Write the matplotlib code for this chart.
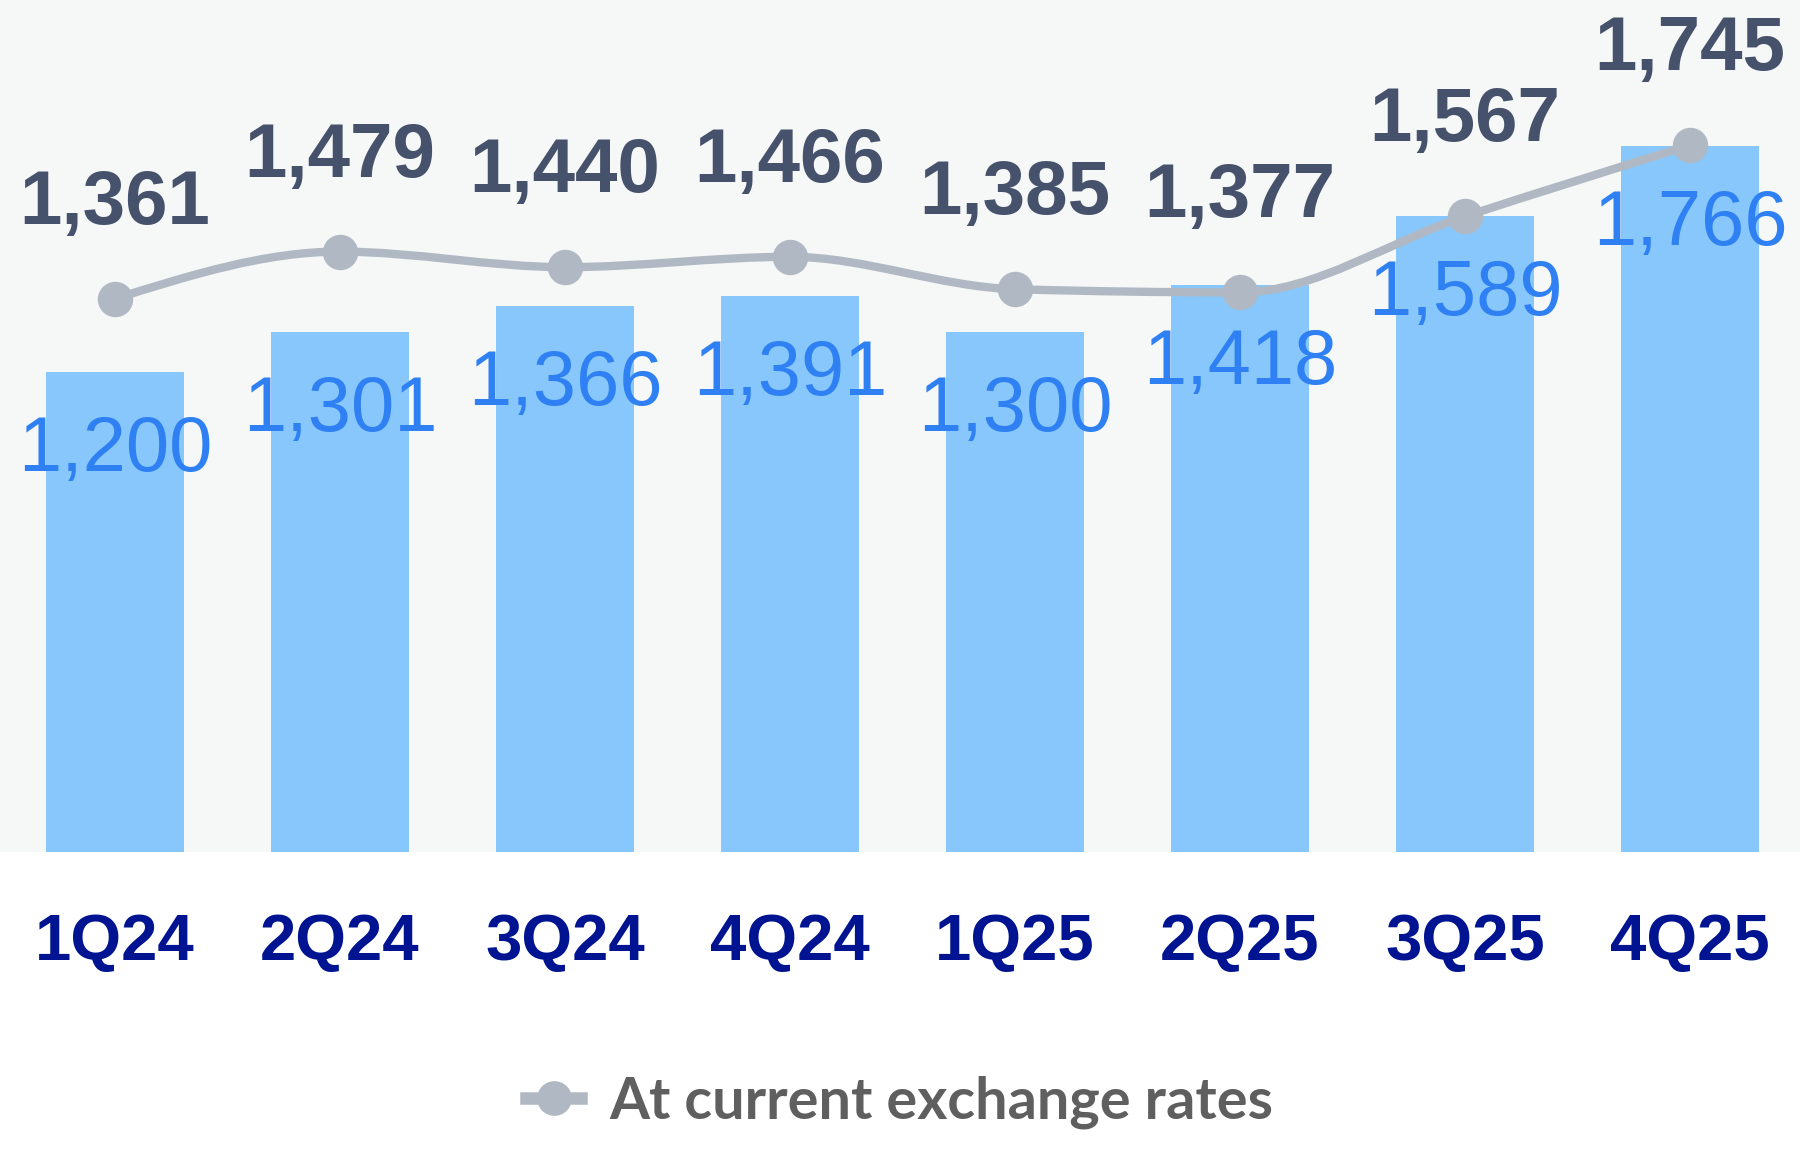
import numpy as np
import matplotlib
matplotlib.use("Agg")
import matplotlib.pyplot as plt
from matplotlib.path import Path
from matplotlib.patches import PathPatch
from matplotlib.lines import Line2D

# data
quarters = ['1Q24', '2Q24', '3Q24', '4Q24', '1Q25', '2Q25', '3Q25', '4Q25']
bar_values = [1200, 1301, 1366, 1391, 1300, 1418, 1589, 1766]
line_values = [1361, 1479, 1440, 1466, 1385, 1377, 1567, 1745]
legend_label = 'At current exchange rates'

# colours
BG = '#F6F7F7'
BAR = '#87C7FB'
BAR_TEXT = '#2F80F3'
LINE = '#B0B9C3'
LINE_TEXT = '#46526B'
TICK = '#001391'
LEGEND_TEXT = '#5F5F5F'


def monotone_path(xs, ys):
    # smooth monotone-x curve drawn as cubic bezier segments
    xs = np.asarray(xs, float)
    ys = np.asarray(ys, float)
    n = len(xs)
    h = np.diff(xs)
    s = np.diff(ys) / h
    t = np.zeros(n)
    for i in range(1, n - 1):
        p = (s[i - 1] * h[i] + s[i] * h[i - 1]) / (h[i - 1] + h[i])
        t[i] = (np.sign(s[i - 1]) + np.sign(s[i])) * min(abs(s[i - 1]), abs(s[i]), 0.5 * abs(p))
    t[0] = (3 * s[0] - t[1]) / 2
    t[-1] = (3 * s[-1] - t[-2]) / 2
    verts = [(xs[0], ys[0])]
    codes = [Path.MOVETO]
    for i in range(n - 1):
        dx = h[i] / 3
        verts += [(xs[i] + dx, ys[i] + dx * t[i]),
                  (xs[i + 1] - dx, ys[i + 1] - dx * t[i + 1]),
                  (xs[i + 1], ys[i + 1])]
        codes += [Path.CURVE4] * 3
    return Path(verts, codes)


fig = plt.figure(figsize=(18, 11.52), dpi=100)
ax = fig.add_axes([0, 300 / 1152, 1, 852 / 1152])
ax.set_facecolor(BG)
x = np.arange(len(quarters))

bars = ax.bar(x, bar_values, width=0.613, color=BAR, zorder=1)
ax.set_xlim(-0.511, 7.489)
ax.set_ylim(0, 2130)
for sp in ax.spines.values():
    sp.set_visible(False)
ax.set_yticks([])
ax.set_xticks(x)
ax.set_xticklabels(quarters, fontfamily='Liberation Sans', fontweight='bold',
                   fontsize=47, color=TICK)
ax.tick_params(axis='x', length=0, pad=44)

for xi, v in zip(x, bar_values):
    ax.annotate(f'{v:,}', (xi, v), xytext=(0, -99), textcoords='offset pixels',
                ha='center', va='baseline', fontfamily='Liberation Sans',
                fontsize=56, color=BAR_TEXT, zorder=3)

# line series sits on its own scale
ax2 = ax.twinx()
ax2.set_ylim(-22, 2108)
ax2.set_xlim(ax.get_xlim())
ax2.axis('off')
ax2.add_patch(PathPatch(monotone_path(x, line_values), facecolor='none',
                        edgecolor=LINE, lw=6, capstyle='round', zorder=2))
ax2.plot(x, line_values, 'o', color=LINE, markersize=24.5, zorder=3)
for xi, v in zip(x, line_values):
    ax2.annotate(f'{v:,}', (xi, v), xytext=(0, 75), textcoords='offset pixels',
                 ha='center', va='baseline', fontfamily='Liberation Sans',
                 fontweight='bold', fontsize=55, color=LINE_TEXT, zorder=4)

handle = Line2D([], [], color=LINE, lw=9, marker='o', markersize=24)
fig.legend([handle], [legend_label], loc='center', bbox_to_anchor=(0.5, 50 / 1152),
           frameon=False, handlelength=0.95, handletextpad=0.5,
           prop={'family': 'Lato', 'weight': 'bold', 'size': 41.5},
           labelcolor=LEGEND_TEXT)

fig.savefig('out.png', dpi=100, facecolor='white')
